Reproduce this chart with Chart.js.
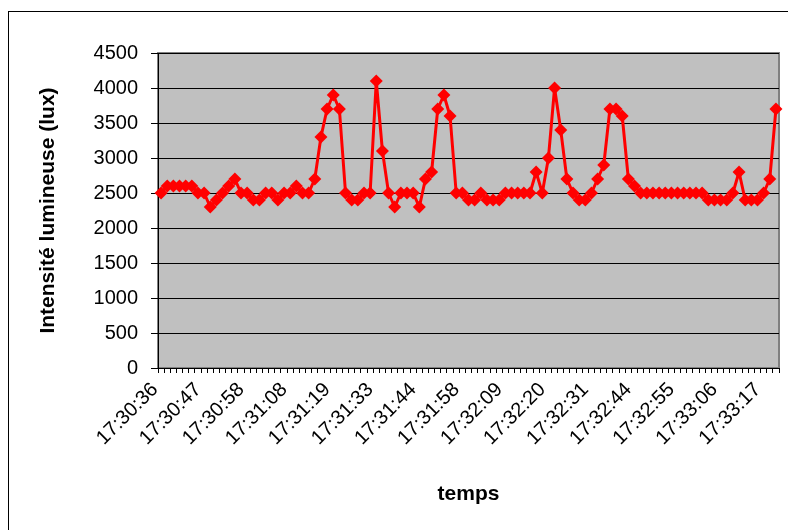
<!DOCTYPE html>
<html>
<head>
<meta charset="utf-8">
<script src="https://cdn.jsdelivr.net/npm/chart.js@4.4.1/dist/chart.umd.min.js"></script>
<style>
  html, body { margin: 0; padding: 0; background: #ffffff; }
  #box { width: 788px; height: 530px; }
</style>
</head>
<body>
<div id="box"><canvas id="grafico" width="788" height="530"></canvas></div>
<script>
// Times shown under the axis (one every 7 readings)
const tickLabels = ['17:30:36', '17:30:47', '17:30:58', '17:31:08', '17:31:19', '17:31:33', '17:31:44',
  '17:31:58', '17:32:09', '17:32:20', '17:32:31', '17:32:44', '17:32:55', '17:33:06', '17:33:17'];

// Light readings (lux)
const lux = [2500, 2600, 2600, 2600, 2600, 2600, 2500, 2500, 2300, 2400,
  2500, 2600, 2700, 2500, 2500, 2400, 2400, 2500, 2500, 2400,
  2500, 2500, 2600, 2500, 2500, 2700, 3300, 3700, 3900, 3700,
  2500, 2400, 2400, 2500, 2500, 4100, 3100, 2500, 2300, 2500,
  2500, 2500, 2300, 2700, 2800, 3700, 3900, 3600, 2500, 2500,
  2400, 2400, 2500, 2400, 2400, 2400, 2500, 2500, 2500, 2500,
  2500, 2800, 2500, 3000, 4000, 3400, 2700, 2500, 2400, 2400,
  2500, 2700, 2900, 3700, 3700, 3600, 2700, 2600, 2500, 2500,
  2500, 2500, 2500, 2500, 2500, 2500, 2500, 2500, 2500, 2400,
  2400, 2400, 2400, 2500, 2800, 2400, 2400, 2400, 2500, 2700,
  3700];

const labelStep = 7;
const categories = lux.map((v, i) => i % labelStep === 0 ? (tickLabels[i / labelStep] || '') : '');

const police = "Arial, 'Liberation Sans', sans-serif";

// grey plot area + frame around the whole chart
const fond = {
  id: 'fond',
  beforeDraw(chart) {
    const c = chart.ctx;
    const a = chart.chartArea;
    c.save();
    c.fillStyle = '#ffffff';
    c.fillRect(0, 0, chart.width, chart.height);
    c.strokeStyle = '#000000';
    c.lineWidth = 1;
    c.strokeRect(8.5, 11.5, 900, 700);
    c.fillStyle = '#c0c0c0';
    c.fillRect(a.left, a.top, a.right - a.left, a.bottom - a.top);
    c.strokeStyle = '#808080';
    c.lineWidth = 2;
    c.strokeRect(a.left, a.top, a.right - a.left, a.bottom - a.top);
    c.restore();
  }
};

const ctx = document.getElementById('grafico').getContext('2d');

new Chart(ctx, {
  type: 'line',
  data: {
    labels: categories,
    datasets: [{
      data: lux,
      borderColor: '#ff0000',
      backgroundColor: '#ff0000',
      borderWidth: 3,
      borderJoinStyle: 'round',
      tension: 0,
      pointStyle: 'rectRot',
      pointRadius: 6.5,
      pointBorderWidth: 0,
      pointBackgroundColor: '#ff0000',
      fill: false
    }]
  },
  plugins: [fond],
  options: {
    responsive: false,
    animation: false,
    layout: { padding: { left: 0, top: 53, right: 9, bottom: 0 } },
    plugins: {
      legend: { display: false },
      tooltip: { enabled: false }
    },
    scales: {
      x: {
        offset: true,
        afterFit: s => { s.height = 162; s.paddingLeft = 0; s.paddingRight = 0; },
        grid: {
          offset: true,
          drawOnChartArea: false,
          tickLength: 5,
          color: '#000000'
        },
        border: { color: '#000000', width: 1 },
        ticks: {
          autoSkip: false,
          minRotation: 45,
          maxRotation: 45,
          padding: 5,
          labelOffset: -6,
          color: '#000000',
          font: { family: police, size: 20 }
        },
        title: {
          display: true,
          text: 'temps',
          color: '#000000',
          padding: { top: 0, bottom: 23 },
          font: { family: police, size: 21, weight: 'bold' }
        }
      },
      y: {
        min: 0,
        max: 4500,
        afterFit: s => { s.width = 158; },
        grid: {
          color: '#000000',
          tickLength: 7
        },
        border: { color: '#000000', width: 1 },
        ticks: {
          stepSize: 500,
          padding: 13,
          color: '#000000',
          font: { family: police, size: 20 },
          callback: v => String(v)
        },
        title: {
          display: true,
          text: 'Intensité lumineuse (lux)',
          color: '#000000',
          padding: { top: 36, bottom: 0 },
          font: { family: police, size: 21, weight: 'bold' }
        }
      }
    }
  }
});
</script>
</body>
</html>
